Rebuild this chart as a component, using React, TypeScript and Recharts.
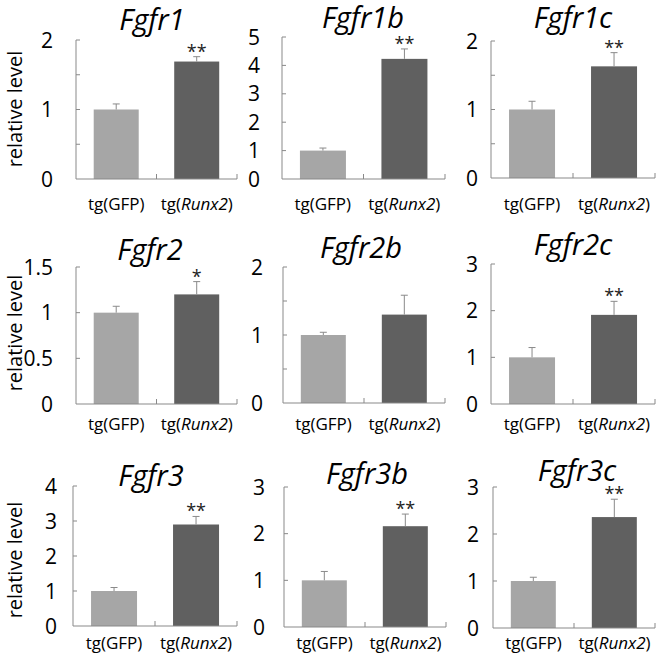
import React from 'react';
import { BarChart, Bar, XAxis, YAxis, Cell } from 'recharts';

const genes = ['Fgfr1', 'Fgfr1b', 'Fgfr1c', 'Fgfr2', 'Fgfr2b', 'Fgfr2c', 'Fgfr3', 'Fgfr3b', 'Fgfr3c'];
const groups = ['tg(GFP)', 'tg(Runx2)'];
const gfpMeans = [1, 1, 1, 1, 1, 1, 1, 1, 1];
const gfpErrors = [0.08, 0.09, 0.12, 0.07, 0.04, 0.21, 0.1, 0.19, 0.08];
const runx2Means = [1.69, 4.23, 1.63, 1.2, 1.3, 1.91, 2.9, 2.16, 2.36];
const runx2Errors = [0.07, 0.35, 0.2, 0.14, 0.285, 0.29, 0.23, 0.26, 0.38];
const significance = ['**', '**', '**', '*', '', '**', '**', '**', '**'];
const yMax = [2, 5, 2, 1.5, 2, 3, 4, 3, 3];
const yTicks = [
  [0, 0.5, 1, 1.5, 2],
  [0, 1, 2, 3, 4, 5],
  [0, 0.5, 1, 1.5, 2],
  [0, 0.5, 1, 1.5],
  [0, 0.5, 1, 1.5, 2],
  [0, 1, 2, 3],
  [0, 1, 2, 3, 4],
  [0, 1, 2, 3],
  [0, 1, 2, 3],
];
const yTickLabels = [
  [0, 1, 2],
  [0, 1, 2, 3, 4, 5],
  [0, 1, 2],
  [0, 0.5, 1, 1.5],
  [0, 1, 2],
  [0, 1, 2, 3],
  [0, 1, 2, 3, 4],
  [0, 1, 2, 3],
  [0, 1, 2, 3],
];
const yAxisLabel = 'relative level';

const W = 660;
const H = 657;
const FONT = '"Open Sans", sans-serif';
const AXIS = '#898989';
const barColors = ['#a6a6a6', '#606060'];

// plot rectangles (l,t,r,b), tick label gap, title centre/baseline
const plots = [
  { l: 76, t: 40, r: 237, b: 179, gap: 23, tx: 152, ty: 30 },
  { l: 282, t: 37, r: 445, b: 179, gap: 22, tx: 363, ty: 28 },
  { l: 491, t: 41, r: 655, b: 178, gap: 13, tx: 573, ty: 28 },
  { l: 76, t: 267, r: 237, b: 404, gap: 23, tx: 150, ty: 260 },
  { l: 283, t: 267, r: 445, b: 403, gap: 20, tx: 361, ty: 258 },
  { l: 491, t: 264, r: 655, b: 404, gap: 13, tx: 573, ty: 255 },
  { l: 73, t: 486, r: 237, b: 626, gap: 16, tx: 151, ty: 486 },
  { l: 284, t: 487, r: 446, b: 627, gap: 19, tx: 367, ty: 484 },
  { l: 493, t: 487, r: 655, b: 628, gap: 14, tx: 577, ty: 481 },
];
const rowLabelY = [109, 333, 560];
const rowXBaseline = [210, 430, 649];

function XTick(props: any) {
  const { x, payload, axisY, band, baseline } = props;
  const label: string = payload.value;
  const m = label.match(/^(tg\()(.*)(\))$/);
  const italic = m && m[2] !== 'GFP';
  return (
    <g>
      <line x1={x + band / 2} x2={x + band / 2} y1={axisY} y2={axisY - 5} stroke={AXIS} />
      <text x={x} y={baseline} textAnchor="middle" fontFamily={FONT} fontSize={17} fill="#000">
        {m ? (
          <>
            <tspan>{m[1]}</tspan>
            <tspan fontStyle={italic ? 'italic' : 'normal'}>{m[2]}</tspan>
            <tspan>{m[3]}</tspan>
          </>
        ) : label}
      </text>
    </g>
  );
}

function YTick(props: any) {
  const { y, payload, left, gap, labels } = props;
  const v = payload.value;
  return (
    <g>
      {v !== 0 && <line x1={left} x2={left + 4} y1={y} y2={y} stroke={AXIS} />}
      {labels.includes(v) && (
        <text x={left - gap} y={y + 7.5} textAnchor="end" fontFamily={FONT} fontSize={21} fill="#000">
          {v}
        </text>
      )}
    </g>
  );
}

function BarWithError(props: any) {
  const { x, y, width, height, fill, payload } = props;
  const cx = x + width / 2;
  const errTop = y - (height * payload.err) / payload.mean;
  return (
    <g>
      <rect x={x} y={y} width={width} height={height} fill={fill} />
      <line x1={cx} x2={cx} y1={y} y2={errTop} stroke="#8a8a8a" />
      <line x1={cx - 3.5} x2={cx + 3.5} y1={errTop} y2={errTop} stroke="#8a8a8a" />
      {payload.sig && (
        <text x={cx} y={errTop + 1} textAnchor="middle" fontFamily={FONT} fontSize={18} fill="#222">
          {payload.sig}
        </text>
      )}
    </g>
  );
}

function Panel({ i }: { i: number }) {
  const p = plots[i];
  const row = Math.floor(i / 3);
  const data = groups.map((g, k) => ({
    group: g,
    mean: k ? runx2Means[i] : gfpMeans[i],
    err: k ? runx2Errors[i] : gfpErrors[i],
    sig: k ? significance[i] : '',
  }));
  const xH = 20;
  const yW = 40;
  const margin = { top: p.t, left: p.l - yW, right: W - p.r, bottom: H - p.b - xH };
  const band = (p.r - p.l) / 2;
  return (
    <div style={{ position: 'absolute', left: 0, top: 0 }}>
      <BarChart width={W} height={H} data={data} margin={margin} barCategoryGap="22%">
        <XAxis
          dataKey="group"
          height={xH}
          axisLine={{ stroke: AXIS }}
          tickLine={false}
          interval={0}
          tick={(tp: any) => <XTick {...tp} axisY={p.b} band={band} baseline={rowXBaseline[row]} />}
        />
        <YAxis
          type="number"
          width={yW}
          domain={[0, yMax[i]]}
          ticks={yTicks[i]}
          interval={0}
          axisLine={{ stroke: AXIS }}
          tickLine={false}
          tick={(tp: any) => <YTick {...tp} left={p.l} gap={p.gap} labels={yTickLabels[i]} />}
        />
        <Bar dataKey="mean" isAnimationActive={false} shape={(bp: any) => <BarWithError {...bp} />}>
          {data.map((d, k) => (
            <Cell key={d.group} fill={barColors[k]} />
          ))}
        </Bar>
      </BarChart>
    </div>
  );
}

export default function App() {
  return (
    <div style={{ position: 'absolute', left: 0, top: 0, width: W, height: H, background: '#fff' }}>
      {genes.map((g, i) => (
        <Panel key={g} i={i} />
      ))}
      <svg width={W} height={H} style={{ position: 'absolute', left: 0, top: 0, pointerEvents: 'none' }}>
        {genes.map((g, i) => (
          <text
            key={g}
            x={plots[i].tx}
            y={plots[i].ty}
            textAnchor="middle"
            fontFamily={FONT}
            fontStyle="italic"
            fontSize={29}
            fill="#000"
          >
            {g}
          </text>
        ))}
        {rowLabelY.map((y, r) => (
          <text
            key={r}
            x={22}
            y={y}
            transform={`rotate(-90 22 ${y})`}
            textAnchor="middle"
            fontFamily={FONT}
            fontSize={20}
            fill="#000"
          >
            {yAxisLabel}
          </text>
        ))}
      </svg>
    </div>
  );
}
